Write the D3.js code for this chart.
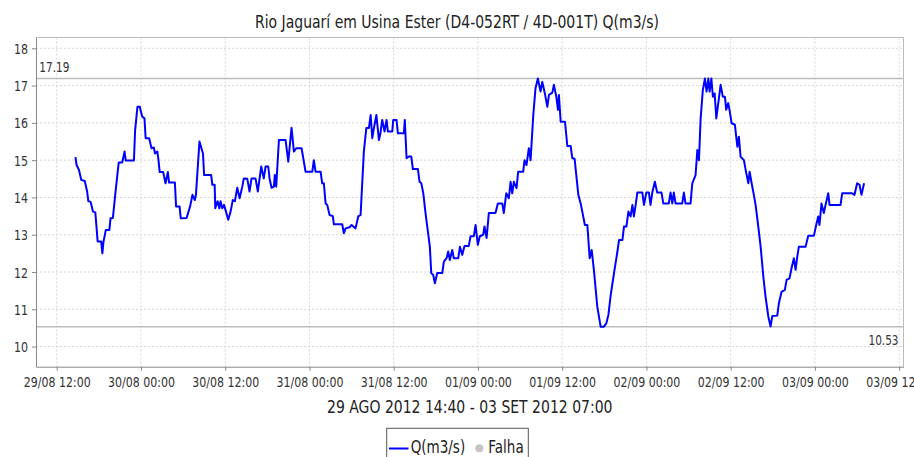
<!DOCTYPE html>
<html>
<head>
<meta charset="utf-8">
<script src="https://cdn.jsdelivr.net/npm/d3@7"></script>
<style>
  body { margin: 0; background: #fff; }
  text { font-family: "DejaVu Sans", sans-serif; }
</style>
</head>
<body>
<svg id="chart" width="914" height="457"></svg>
<script>
(function (d3) {
    'use strict';

    // readings per day, [hora, Q(m3/s)]
    const day29 = [["14:40",15.08],["14:50",14.87],["15:10",14.74],["15:30",14.47],["16:00",14.44],["16:20",14.16],
        ["16:30",13.90],["16:50",13.88],["17:10",13.62],["17:30",13.60],["17:50",12.82],["18:20",12.82],["18:30",12.50],
        ["18:40",12.82],["19:00",13.13],["19:30",13.13],["19:40",13.44],["20:00",13.45],["20:20",14.07],["20:40",14.65],
        ["20:50",14.94],["21:20",14.94],["21:40",15.23],["21:50",14.99],["23:00",14.99],["23:10",15.80],["23:30",16.43],
        ["23:50",16.43]];
    const day30 = [["00:10",16.17],["00:30",16.12],["00:40",15.59],["01:10",15.59],["01:30",15.32],["01:50",15.34],
        ["02:00",15.18],["02:20",15.23],["02:30",15.00],["02:40",14.68],["03:10",14.68],["03:30",14.38],["03:50",14.68],
        ["04:00",14.40],["04:50",14.40],["05:00",13.76],["05:30",13.76],["05:40",13.44],["06:30",13.45],["07:00",13.76],
        ["07:20",14.07],["07:40",13.93],["07:50",14.07],["08:20",15.50],["08:50",15.18],["09:00",14.60],["10:00",14.60],
        ["10:10",14.34],["10:30",14.34],["10:35",13.71],["10:55",13.90],["11:10",13.71],["11:20",13.90],["11:35",13.71],
        ["11:50",13.80],["12:03",13.66],["12:26",13.40],["12:46",13.62],["13:05",13.93],["13:23",13.90],["13:43",14.26],
        ["14:03",13.98],["14:26",14.29],["14:39",14.51],["15:09",14.50],["15:28",14.16],["15:45",14.51],["16:19",14.51],
        ["16:39",14.16],["16:54",14.51],["17:08",14.83],["17:30",14.51],["17:45",14.83],["18:08",14.83],["18:19",14.51],
        ["18:36",14.26],["18:56",14.29],["19:04",14.60],["19:16",14.29],["19:39",15.54],["20:36",15.54],["20:59",14.96],
        ["21:10",15.32],["21:27",15.87],["21:47",15.23],["22:07",15.32],["22:53",15.32],["23:12",14.96],["23:27",14.69]];
    const day31 = [["00:24",14.69],["00:38",15.00],["00:52",14.69],["01:35",14.69],["01:49",14.38],["02:03",14.38],
        ["02:18",13.84],["02:32",13.80],["02:52",13.53],["03:20",13.50],["03:29",13.28],["04:40",13.28],["04:54",13.04],
        ["05:09",13.17],["05:43",13.20],["06:00",13.26],["06:34",13.17],["06:57",13.49],["07:17",13.53],["07:45",15.23],
        ["08:06",15.86],["08:28",15.86],["08:43",16.21],["08:57",15.59],["09:11",15.86],["09:32",16.21],["09:54",15.54],
        ["10:08",15.75],["10:22",16.08],["10:42",15.77],["10:59",16.08],["11:10",15.77],["11:48",15.77],["11:56",16.08],
        ["12:24",16.08],["12:36",15.72],["13:27",15.72],["13:35",16.08],["13:50",15.05],["14:10",15.10],["14:30",15.10],
        ["14:44",14.76],["15:27",14.76],["15:41",14.42],["15:56",14.38],["16:13",14.11],["16:32",13.58],["17:09",12.68],
        ["17:21",11.97],["17:38",11.92],["17:52",11.70],["18:12",11.97],["18:55",11.97],["19:09",12.28],["19:32",12.37],
        ["19:46",12.55],["20:00",12.32],["20:20",12.59],["20:34",12.37],["21:12",12.37],["21:26",12.68],["21:46",12.46],
        ["22:05",12.70],["22:42",12.70],["22:57",12.96],["23:25",12.96],["23:40",13.26],["23:59",12.73]];
    const day01 = [["00:16",12.96],["00:45",13.00],["00:56",13.22],["01:14",12.91],["01:33",13.58],["02:30",13.58],
        ["02:50",13.84],["03:28",13.84],["03:41",13.58],["04:02",14.11],["04:24",13.98],["04:39",14.42],["04:53",14.11],
        ["05:07",14.42],["05:30",14.25],["05:44",14.69],["06:27",14.69],["06:38",15.00],["06:55",14.87],["07:15",15.32],
        ["07:30",15.00],["07:53",16.21],["08:12",16.93],["08:32",17.19],["08:55",16.84],["09:10",17.10],["09:32",16.79],
        ["09:53",16.43],["10:07",16.75],["10:36",16.81],["10:49",17.02],["11:10",16.70],["11:24",16.35],["11:32",16.75],
        ["11:47",16.03],["12:24",16.03],["12:44",15.38],["13:12",15.38],["13:27",15.05],["13:46",15.04],["14:18",14.07],
        ["14:38",13.84],["15:14",13.26],["15:35",13.26],["15:55",12.37],["16:12",12.59],["16:31",12.06],["17:00",11.07],
        ["17:29",10.53],["17:57",10.53],["18:18",10.63],["18:35",10.85],["18:55",11.39],["19:23",11.97],["19:52",12.55],
        ["20:06",12.86],["20:35",12.86],["20:48",13.22],["21:09",13.22],["21:26",13.62],["21:45",13.49],["22:00",13.80],
        ["22:13",13.49],["22:28",13.80],["22:42",14.13],["23:25",14.13],["23:39",13.80],["23:59",14.13]];
    const day02 = [["00:21",14.13],["00:35",13.80],["00:50",14.13],["01:12",14.42],["01:32",14.13],["02:09",14.13],
        ["02:24",13.84],["03:11",13.84],["03:26",14.13],["03:41",13.84],["03:54",14.13],["04:09",13.84],["05:06",13.84],
        ["05:20",14.13],["05:34",13.84],["06:17",13.84],["06:32",14.38],["07:00",14.60],["07:15",15.27],["07:29",15.00],
        ["07:43",16.10],["08:02",16.88],["08:20",17.19],["08:34",16.84],["08:49",17.19],["09:00",16.84],["09:15",17.19],
        ["09:28",16.70],["09:43",16.79],["09:57",16.12],["10:14",16.53],["10:34",17.02],["10:53",16.70],["11:11",16.70],
        ["11:22",16.35],["11:39",16.53],["11:50",16.35],["12:08",15.99],["12:36",15.95],["12:57",15.36],["13:10",15.63],
        ["13:25",15.09],["13:53",15.00],["14:08",14.74],["14:31",14.38],["14:42",14.69],["14:59",14.38],["15:18",14.07],
        ["15:33",13.80],["15:56",13.22],["16:16",12.68],["16:39",11.88],["16:58",11.34],["17:22",10.80],["17:41",10.54],
        ["17:56",10.82],["18:38",10.83],["18:52",11.16],["19:15",11.47],["19:43",11.52],["19:58",11.79],["20:23",11.83],
        ["20:40",12.10],["21:00",12.37],["21:15",12.06],["21:29",12.41],["21:43",12.68],["22:40",12.68],["23:03",12.97],
        ["23:51",12.97]];
    const day03 = [["00:11",13.26],["00:28",13.49],["00:39",13.26],["00:56",13.84],["01:16",13.58],["01:31",13.80],
        ["01:54",14.11],["02:05",13.80],["03:39",13.80],["03:53",14.11],["05:19",14.11],["05:38",14.07],["06:01",14.38],
        ["06:21",14.34],["06:38",14.07],["07:00",14.38]];

    const dayDates = ["2012-08-29", "2012-08-30", "2012-08-31", "2012-09-01", "2012-09-02", "2012-09-03"];
    const yTicks = [10, 11, 12, 13, 14, 15, 16, 17, 18];
    const maxFlow = 17.19, minFlow = 10.53;
    const titleText = "Rio Jaguarí em Usina Ester (D4-052RT / 4D-001T) Q(m3/s)";
    const periodText = "29 AGO 2012 14:40 - 03 SET 2012 07:00";
    const legendItems = ["Q(m3/s)", "Falha"];

    const parse = d3.timeParse("%Y-%m-%d %H:%M");
    const series = [];
    [day29, day30, day31, day01, day02, day03].forEach((rows, i) => {
        rows.forEach(r => series.push({ t: parse(dayDates[i] + " " + r[0]), q: r[1] }));
    });

    const svg = d3.select("#chart");
    const left = 36, right = 903.5, top = 37.5, bottom = 366.7;
    const stretch = 1.28;
    const axisColor = "#888", gridColor = "#d6d6d6", textColor = "#333";

    const ext = d3.extent(series, d => d.t);
    const pad = (ext[1] - ext[0]) * 0.05;
    const x = d3.scaleTime().domain([new Date(+ext[0] - pad), new Date(+ext[1] + pad)]).range([left, right]);
    const y = d3.scaleLinear().domain([9.46, 18.29]).range([bottom, top]);
    const xTicks = d3.timeHour.every(12).range(d3.timeHour.ceil(x.domain()[0]), x.domain()[1]);

    function label(g, tx, ty, s, size, anchor) {
        return g.append("text")
            .attr("transform", `translate(${tx},${ty}) scale(1,${stretch})`)
            .attr("font-size", size)
            .attr("text-anchor", anchor || "start")
            .attr("fill", textColor)
            .text(s);
    }

    // grid
    const grid = svg.append("g");
    grid.selectAll(".vg").data(xTicks).enter().append("line")
        .attr("x1", d => x(d)).attr("x2", d => x(d)).attr("y1", top).attr("y2", bottom)
        .attr("stroke", gridColor).attr("stroke-dasharray", "2,2");
    grid.selectAll(".hg").data(yTicks).enter().append("line")
        .attr("x1", left).attr("x2", right).attr("y1", d => y(d)).attr("y2", d => y(d))
        .attr("stroke", gridColor).attr("stroke-dasharray", "2,2");

    // max / min markers
    [maxFlow, minFlow].forEach(v => {
        svg.append("line").attr("x1", left).attr("x2", right).attr("y1", y(v)).attr("y2", y(v))
            .attr("stroke", "#bdbdbd").attr("stroke-width", 1.5);
    });
    label(svg, left + 3.3, y(maxFlow) - 7, maxFlow.toFixed(2), 10.5);
    label(svg, right - 5, y(minFlow) + 18, minFlow.toFixed(2), 10.5, "end");

    // flow line
    const line = d3.line().x(d => x(d.t)).y(d => y(d.q));
    svg.append("path").datum(series)
        .attr("d", line)
        .attr("fill", "none")
        .attr("stroke", "#0000ff")
        .attr("stroke-width", 2)
        .attr("stroke-linejoin", "round");

    // outline
    svg.append("path")
        .attr("d", `M${left},${top}H${right}V${bottom}`)
        .attr("fill", "none").attr("stroke", "#bcbcbc");

    // axes
    const yAxis = svg.append("g").attr("transform", `translate(${left},0)`)
        .call(d3.axisLeft(y).tickValues(yTicks).tickSize(4).tickSizeOuter(0).tickFormat(d3.format("d")));
    const xAxis = svg.append("g").attr("transform", `translate(0,${bottom})`)
        .call(d3.axisBottom(x).tickValues(xTicks).tickSize(4).tickSizeOuter(0).tickFormat(d3.timeFormat("%d/%m %H:%M")));
    [yAxis, xAxis].forEach(a => {
        a.attr("font-family", "DejaVu Sans").attr("font-size", 11);
        a.select(".domain").attr("stroke", axisColor);
        a.selectAll(".tick line").attr("stroke", axisColor);
        a.selectAll(".tick text").attr("fill", textColor).attr("x", null).attr("y", null).attr("dy", null);
    });
    yAxis.selectAll(".tick text").attr("transform", `translate(-8,5) scale(1,${stretch})`);
    xAxis.selectAll(".tick text").attr("transform", `translate(0,20) scale(1,${stretch})`);

    // titles
    label(svg, 457, 28.3, titleText, 14, "middle").attr("fill", "#222");
    label(svg, (left + right) / 2, 413, periodText, 14, "middle").attr("fill", "#222");

    // legend
    const lg = svg.append("g");
    lg.append("rect").attr("x", 386.7).attr("y", 428.3).attr("width", 141.6).attr("height", 40)
        .attr("fill", "#fff").attr("stroke", "#555");
    lg.append("line").attr("x1", 389).attr("x2", 408.5).attr("y1", 448.5).attr("y2", 448.5)
        .attr("stroke", "#0000ff").attr("stroke-width", 2);
    label(lg, 410.7, 453, legendItems[0], 13.5).attr("fill", "#222");
    lg.append("circle").attr("cx", 479.3).attr("cy", 448.3).attr("r", 4).attr("fill", "#c4c4c4");
    label(lg, 488.3, 453, legendItems[1], 13.5).attr("fill", "#222");

}(d3));
</script>
</body>
</html>
